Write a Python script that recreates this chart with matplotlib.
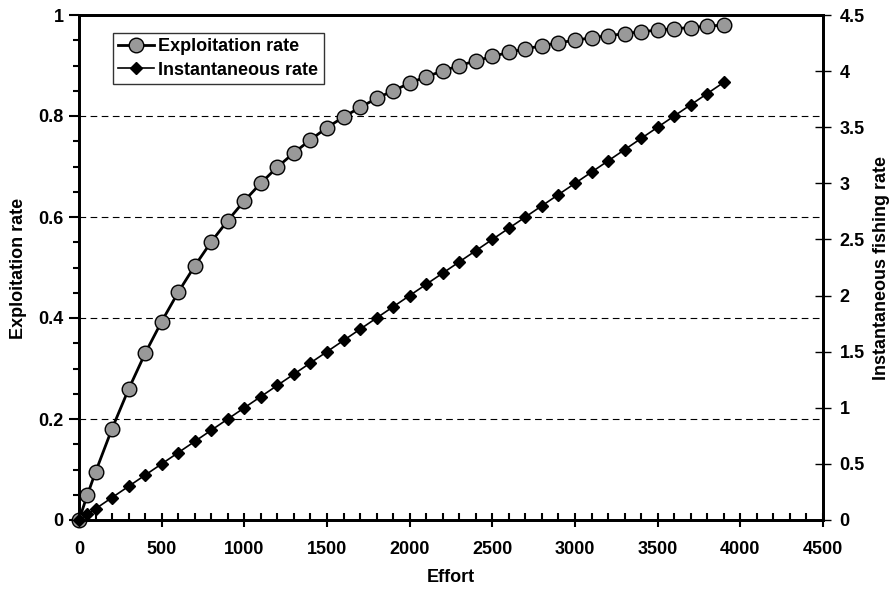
import matplotlib
matplotlib.use("Agg")
import matplotlib.pyplot as plt
from matplotlib.ticker import MultipleLocator

plt.rcParams['font.family'] = ['Liberation Sans', 'DejaVu Sans']
plt.rcParams['font.weight'] = 'bold'

effort = [0, 50, 100, 200, 300, 400, 500, 600, 700, 800, 900, 1000, 1100, 1200,
          1300, 1400, 1500, 1600, 1700, 1800, 1900, 2000, 2100, 2200, 2300, 2400,
          2500, 2600, 2700, 2800, 2900, 3000, 3100, 3200, 3300, 3400, 3500, 3600,
          3700, 3800, 3900]
exploitation = [0, 0.049, 0.095, 0.181, 0.259, 0.330, 0.393, 0.451, 0.503, 0.551,
                0.593, 0.632, 0.667, 0.699, 0.727, 0.753, 0.777, 0.798, 0.817,
                0.835, 0.850, 0.865, 0.878, 0.889, 0.900, 0.909, 0.918, 0.926,
                0.933, 0.939, 0.945, 0.950, 0.955, 0.959, 0.963, 0.967, 0.970,
                0.973, 0.975, 0.978, 0.980]
instantaneous = [0, 0.05, 0.1, 0.2, 0.3, 0.4, 0.5, 0.6, 0.7, 0.8, 0.9, 1.0, 1.1,
                 1.2, 1.3, 1.4, 1.5, 1.6, 1.7, 1.8, 1.9, 2.0, 2.1, 2.2, 2.3, 2.4,
                 2.5, 2.6, 2.7, 2.8, 2.9, 3.0, 3.1, 3.2, 3.3, 3.4, 3.5, 3.6, 3.7,
                 3.8, 3.9]
left_ticks = [0, 0.2, 0.4, 0.6, 0.8, 1]
right_ticks = [0, 0.5, 1, 1.5, 2, 2.5, 3, 3.5, 4, 4.5]

FS = 13
W, H = 893, 590
fig = plt.figure(figsize=(W/100, H/100), dpi=100)
ax = fig.add_axes([79/W, 1 - 520/H, (823-79)/W, (520-15)/H])
ax2 = ax.twinx()

ax.set_xlim(0, 4500)
ax.set_ylim(0, 1)
ax2.set_ylim(0, 4.5)

for y in left_ticks[1:-1]:
    ax.axhline(y, color='black', lw=0.8, ls=(0, (6, 4)), zorder=0)

l1, = ax.plot(effort, exploitation, color='black', lw=2, marker='o', ms=10.5,
              mfc='#999999', mec='black', mew=1, zorder=3, clip_on=False,
              label='Exploitation rate')
l2, = ax2.plot(effort, instantaneous, color='black', lw=1.2, marker='D', ms=6,
               mfc='black', mec='black', zorder=3, clip_on=False,
               label='Instantaneous rate')

ax.xaxis.set_major_locator(MultipleLocator(500))
ax.xaxis.set_minor_locator(MultipleLocator(100))
ax.set_yticks(left_ticks)
ax.set_yticklabels(['%g' % v for v in left_ticks])
ax.yaxis.set_minor_locator(MultipleLocator(0.05))
ax2.set_yticks(right_ticks)
ax2.set_yticklabels(['%g' % v for v in right_ticks])

ax.tick_params(axis='x', which='major', direction='inout', length=10, width=1.5,
               labelsize=FS, pad=10)
ax.tick_params(axis='x', which='minor', direction='in', length=5, width=1.5)
ax.tick_params(axis='y', which='major', direction='out', length=7, width=1.5,
               labelsize=FS, pad=4)
ax.tick_params(axis='y', which='minor', direction='out', length=4, width=1.5)
ax2.tick_params(axis='y', which='major', direction='inout', length=12, width=1,
                labelsize=FS, pad=6)

for a in (ax, ax2):
    for s in a.spines.values():
        s.set_linewidth(2)

fig.text(451/W, 1 - 578/H, 'Effort', ha='center', va='center', fontsize=FS,
         fontweight='bold')
fig.text(19/W, 1 - 268/H, 'Exploitation rate', ha='center', va='center',
         rotation=90, fontsize=FS, fontweight='bold')
fig.text(882/W, 1 - 268/H, 'Instantaneous fishing rate', ha='center', va='center',
         rotation=90, fontsize=FS, fontweight='bold')

leg = ax2.legend(handles=[l1, l2], loc='upper left',
                 bbox_to_anchor=((113-79)/744, 1 - (33-15)/505),
                 borderaxespad=0, frameon=True, fancybox=False, edgecolor='black',
                 fontsize=FS, handlelength=1.95, handletextpad=0.25, borderpad=0.3,
                 labelspacing=0.35, markerscale=1.0)
leg.get_frame().set_linewidth(1)

fig.savefig('out.png', dpi=100)
